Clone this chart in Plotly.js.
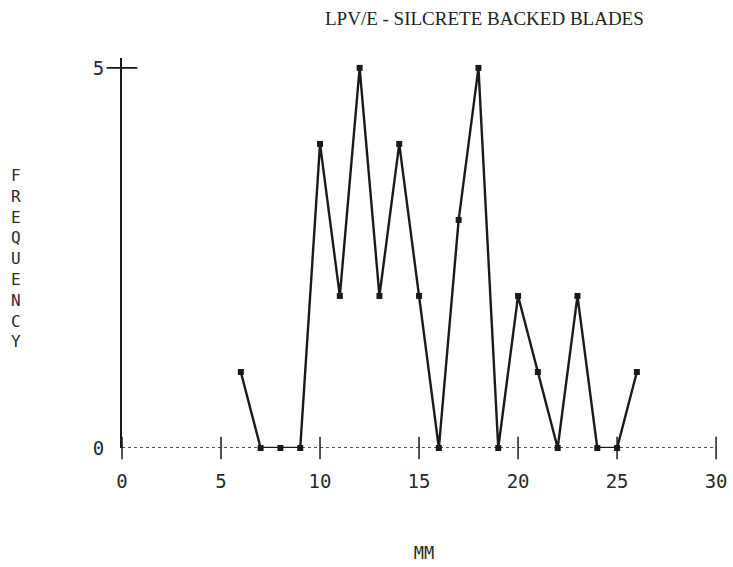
<!DOCTYPE html>
<html>
<head>
<meta charset="utf-8">
<script src="https://cdn.plot.ly/plotly-3.0.1.min.js"></script>
<style>html,body{margin:0;padding:0;background:#fff;}#chart{width:733px;height:567px;}</style>
</head>
<body>
<div id="chart"></div>
<script>
// Data
const lengthMM = [6, 7, 8, 9, 10, 11, 12, 13, 14, 15, 16, 17, 18, 19, 20, 21, 22, 23, 24, 25, 26];
const frequency = [1, 0, 0, 0, 4, 2, 5, 2, 4, 2, 0, 3, 5, 0, 2, 1, 0, 2, 0, 0, 1];
const xTickVals = [0, 5, 10, 15, 20, 25, 30];
const xTickText = ['0', '5', '10', '15', '20', '25', '30'];
const yTickVals = [0, 5];
const yTickText = ['0', '5'];
const titleText = 'LPV/E - SILCRETE BACKED BLADES';
const xTitle = 'MM';
const yTitle = 'FREQUENCY';

const ink = '#1a1a1a';
const tickFont = {family: 'DejaVu Sans Mono, monospace', size: 19, color: '#2a2a2a'};

const traces = [
  {
    x: lengthMM, y: frequency, type: 'scatter', mode: 'lines+markers',
    line: {color: ink, width: 2.4},
    marker: {symbol: 'square', size: 6, color: ink},
    hoverinfo: 'x+y', showlegend: false, cliponaxis: false
  },
  {
    // tick crosses on the x baseline
    x: xTickVals, y: xTickVals.map(() => 0), type: 'scatter', mode: 'markers',
    marker: {symbol: 'line-ns-open', size: 16, color: ink, line: {color: ink, width: 1.5}},
    hoverinfo: 'skip', showlegend: false, cliponaxis: false
  },
  {
    // tick cross on the y axis at the top value
    x: [0], y: [yTickVals[1]], type: 'scatter', mode: 'markers',
    marker: {symbol: 'line-ew-open', size: 22, color: ink, line: {color: ink, width: 1.8}},
    hoverinfo: 'skip', showlegend: false, cliponaxis: false
  }
];

const yLetters = yTitle.split('').join('<br>');

const layout = {
  width: 733, height: 567,
  paper_bgcolor: '#fff', plot_bgcolor: '#fff',
  margin: {l: 122, r: 7, t: 58, b: 119, autoexpand: false},
  title: {
    text: titleText, x: 0.6, xanchor: 'center', xref: 'paper',
    y: 0.967, yanchor: 'middle', yref: 'container',
    font: {family: 'Liberation Serif, serif', size: 19, color: '#222'}
  },
  xaxis: {
    range: [0, 30.5], tickvals: xTickVals, ticktext: xTickText,
    showgrid: false, zeroline: false, showline: false, ticks: '',
    ticklabelstandoff: 20, tickfont: tickFont, automargin: false, ticklabeloverflow: 'allow',
    title: {text: xTitle, font: {family: 'DejaVu Sans Mono, monospace', size: 17, color: '#2a2a2a'}, standoff: 56}
  },
  yaxis: {
    range: [0, 5.13], tickvals: yTickVals, ticktext: yTickText,
    showgrid: false, zeroline: false, showline: true, linecolor: ink, linewidth: 2,
    ticks: '', ticklabelstandoff: 12, tickfont: tickFont
  },
  shapes: [
    {type: 'line', xref: 'x', yref: 'y', x0: xTickVals[0], x1: xTickVals[xTickVals.length - 1], y0: 0, y1: 0,
     line: {color: ink, width: 1.5, dash: 'dot'}, layer: 'below'}
  ],
  annotations: [
    {text: yLetters, xref: 'paper', yref: 'paper', x: -0.175, y: 0.487, xanchor: 'center', yanchor: 'middle',
     showarrow: false, font: {family: 'DejaVu Sans Mono, monospace', size: 16, color: '#2a2a2a'}}
  ]
};

Plotly.newPlot('chart', traces, layout, {displayModeBar: false, staticPlot: true});
</script>
</body>
</html>
